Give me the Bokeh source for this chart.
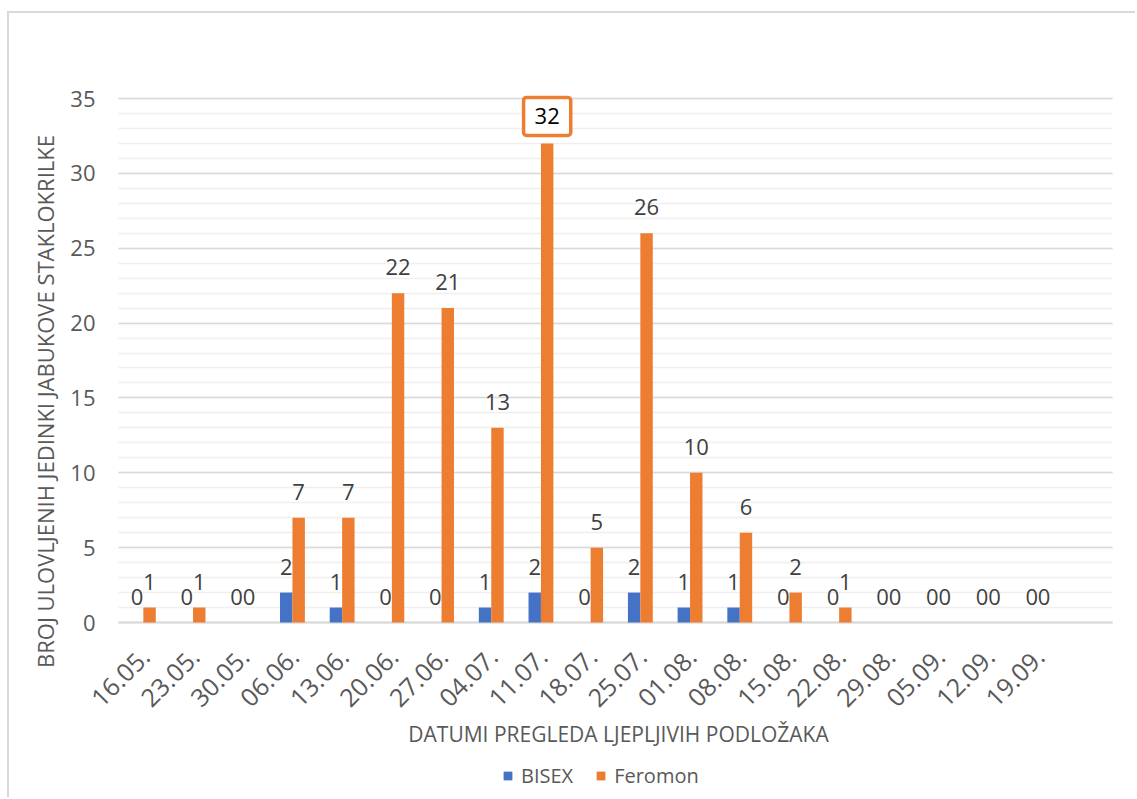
import math
from bokeh.plotting import figure
from bokeh.models import (ColumnDataSource, Range1d, FixedTicker, Label, Legend, LegendItem, Grid)
from bokeh.core.properties import value
from bokeh.embed import file_html
from bokeh.resources import INLINE

dates = ["16.05.", "23.05.", "30.05.", "06.06.", "13.06.", "20.06.", "27.06.", "04.07.",
         "11.07.", "18.07.", "25.07.", "01.08.", "08.08.", "15.08.", "22.08.", "29.08.",
         "05.09.", "12.09.", "19.09."]
bisex = [0, 0, 0, 2, 1, 0, 0, 1, 2, 0, 2, 1, 1, 0, 0, 0, 0, 0, 0]
feromon = [1, 1, 0, 7, 7, 22, 21, 13, 32, 5, 26, 10, 6, 2, 1, 0, 0, 0, 0]
series_names = ["BISEX", "Feromon"]
colors = ["#4472C4", "#ED7D31"]
y_title = "BROJ ULOVLJENIH JEDINKI JABUKOVE STAKLOKRILKE"
x_title = "DATUMI PREGLEDA LJEPLJIVIH PODLOŽAKA"
y_max = 35
y_step = 5

FONT = "Open Sans"
# layout (pixels on the page); the canvas starts at (CX, CY)
CX, CY, PAGE_W, PAGE_H = 9, 13, 1137, 799
AREA_LEFT, AREA_RIGHT, AREA_TOP, ZERO_PX = 118, 1112, 98, 622
n_slots = len(dates) + 1
px_per_cat = (AREA_RIGHT - AREA_LEFT) / n_slots
px_per_unit = (ZERO_PX - AREA_TOP) / y_max
x_start = -0.5 - (AREA_LEFT - CX) / px_per_cat
x_end = n_slots - 0.5 + (PAGE_W - AREA_RIGHT) / px_per_cat
y_top = y_max + (AREA_TOP - CY) / px_per_unit
y_bottom = -(PAGE_H - ZERO_PX) / px_per_unit

bw = 0.25
idx = list(range(len(dates)))
peak = max(range(len(feromon)), key=lambda i: feromon[i])
yticks = list(range(0, y_max + 1, y_step))

src_b = ColumnDataSource(dict(x=[i - bw / 2 for i in idx], y=bisex, t=[str(v) for v in bisex]))
fx = [i + bw / 2 for i in idx]
src_f = ColumnDataSource(dict(x=fx, y=feromon, t=[str(v) for v in feromon]))
lab_f = ColumnDataSource(dict(x=[fx[i] for i in idx if i != peak],
                              y=[feromon[i] for i in idx if i != peak],
                              t=[str(feromon[i]) for i in idx if i != peak]))
src_x = ColumnDataSource(dict(x=idx, y=[0] * len(idx), t=dates))
src_y = ColumnDataSource(dict(x=[-0.5] * len(yticks), y=yticks, t=[str(v) for v in yticks]))

p = figure(width=PAGE_W - CX, height=PAGE_H - CY, output_backend="svg", toolbar_location=None,
           x_range=Range1d(x_start, x_end), y_range=Range1d(y_bottom, y_top),
           x_axis_location=None, y_axis_location=None,
           min_border_left=0, min_border_right=0, min_border_top=0, min_border_bottom=0)
p.styles = {"border-left": "2px solid #d9d9d9", "border-top": "2px solid #d9d9d9",
            "margin-left": "7px", "margin-top": "11px"}
p.outline_line_color = None
p.background_fill_color = "white"
p.border_fill_color = "white"
for g in p.grid:
    g.visible = False

# horizontal grid (major every 5, minor every 1), limited to the plot area
ticker = FixedTicker(ticks=yticks, minor_ticks=list(range(0, y_max + 1)))
grid = Grid(dimension=1, ticker=ticker, bounds=(0, y_max), cross_bounds=(-0.5, n_slots - 0.5),
            grid_line_color="#d9d9d9", grid_line_width=1.5,
            minor_grid_line_color="#efefef", minor_grid_line_width=1.5)
p.add_layout(grid, "center")

# x axis line
p.segment(x0=[-0.5], y0=[0], x1=[n_slots - 0.5], y1=[0], line_color="#d9d9d9", line_width=2)

rb = p.vbar(x="x", top="y", width=bw, source=src_b, fill_color=colors[0], line_color=None)
rf = p.vbar(x="x", top="y", width=bw, source=src_f, fill_color=colors[1], line_color=None)

p.text(x="x", y="y", text="t", source=src_b, text_align="center", text_baseline="middle",
       y_offset=-26, text_font=value(FONT), text_font_size="22px", text_color="#404040")
p.text(x="x", y="y", text="t", source=lab_f, text_align="center", text_baseline="middle",
       y_offset=-26, text_font=value(FONT), text_font_size="22px", text_color="#404040")

p.add_layout(Label(x=fx[peak], y=feromon[peak], text=str(feromon[peak]), text_align="center",
                   text_baseline="middle", y_offset=27, text_font=FONT, text_font_size="22px",
                   text_color="black", background_fill_color="white",
                   border_line_color=colors[1], border_line_width=3.5, padding=11, border_radius=3))

# x tick labels (rotated)
p.text(x="x", y="y", text="t", source=src_x, angle=math.pi / 4, text_align="right",
       text_baseline="middle", x_offset=2, y_offset=30, text_font=value(FONT),
       text_font_size="25px", text_color="#595959")

# y tick labels
p.text(x="x", y="y", text="t", source=src_y, text_align="right", text_baseline="middle",
       x_offset=-(AREA_LEFT - 95), text_font=value(FONT), text_font_size="22px",
       text_color="#595959")

# titles
p.add_layout(Label(x=(n_slots - 1) / 2, y=0, x_offset=3, y_offset=-(733 - ZERO_PX), text=x_title,
                   text_align="center", text_baseline="middle", text_font=FONT,
                   text_font_size="21px", text_color="#595959"))
p.add_layout(Label(x=44 - CX, y=PAGE_H - 401, x_units="screen", y_units="screen", text=y_title,
                   angle=math.pi / 2, text_align="center", text_baseline="middle", text_font=FONT,
                   text_font_size="22px", text_color="#595959"))

legend = Legend(items=[LegendItem(label=series_names[0], renderers=[rb]),
                       LegendItem(label=series_names[1], renderers=[rf])],
                location=(502 - CX, 10), orientation="horizontal", glyph_width=11,
                glyph_height=11, label_standoff=8, spacing=22, padding=0, margin=0,
                border_line_color=None, background_fill_alpha=0, label_text_font=FONT,
                label_text_font_size="20px", label_text_color="#595959")
p.add_layout(legend, "center")

with open("out.html", "w") as f:
    f.write(file_html(p, INLINE))
